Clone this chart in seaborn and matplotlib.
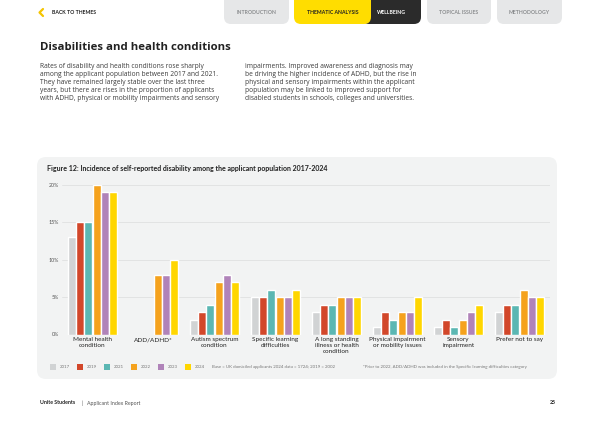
import numpy as np
import pandas as pd
import matplotlib
matplotlib.use('Agg')
import matplotlib.pyplot as plt
import seaborn as sns
from matplotlib.patches import FancyBboxPatch, Rectangle

# chart data (percent of applicants)
categories = ['Mental health\ncondition', 'ADD/ADHD*', 'Autism spectrum\ncondition',
              'Specific learning\ndifficulties', 'A long standing\nillness or health\ncondition',
              'Physical impairment\nor mobility issues', 'Sensory\nimpairment', 'Prefer not to say']
years = ['2017', '2019', '2021', '2022', '2023', '2024']
vals_2017 = [13, np.nan, 2, 5, 3, 1, 1, 3]
vals_2019 = [15, np.nan, 3, 5, 4, 3, 2, 4]
vals_2021 = [15, np.nan, 4, 6, 4, 2, 1, 4]
vals_2022 = [20, 8, 7, 5, 5, 3, 2, 6]
vals_2023 = [19, 8, 8, 5, 5, 3, 3, 5]
vals_2024 = [19, 10, 7, 6, 5, 5, 4, 5]
colors = ['#d1d3d4', '#d2472a', '#5bb7b3', '#f5a21d', '#b083b9', '#ffd600']
yticks = [0, 5, 10, 15, 20]

series = [vals_2017, vals_2019, vals_2021, vals_2022, vals_2023, vals_2024]
df = pd.DataFrame([
    {'category': c, 'year': y, 'value': v}
    for y, vals in zip(years, series)
    for c, v in zip(categories, vals)
])

sns.set_theme(style='white')
plt.rcParams['font.family'] = ['Lato', 'DejaVu Sans']

fig = plt.figure(figsize=(6, 4.24), dpi=100)
fig.patch.set_facecolor('white')

# page layer in pixel coordinates
bg = fig.add_axes([0, 0, 1, 1], zorder=0)
bg.set_xlim(0, 600)
bg.set_ylim(424, 0)
bg.axis('off')

# navigation tabs
def tab(x0, x1, color, text, tcolor, z=1):
    bg.add_patch(FancyBboxPatch((x0, -12), x1 - x0, 36, boxstyle='round,pad=0,rounding_size=7',
                                fc=color, ec='none', zorder=z))
    bg.text((x0 + x1) / 2, 12.5, text, ha='center', va='center', fontsize=3.7,
            color=tcolor, fontweight='bold', zorder=z + 1)

tab(224, 289, '#e6e7e8', 'INTRODUCTION', '#8a8c8e')
tab(362, 421, '#2b2b2b', 'WELLBEING', 'white', z=1)
tab(294, 371, '#ffdd00', 'THEMATIC ANALYSIS', '#222222', z=3)
tab(427, 491, '#e6e7e8', 'TOPICAL ISSUES', '#8a8c8e')
tab(497, 562, '#e6e7e8', 'METHODOLOGY', '#8a8c8e')
bg.plot([43, 39.5, 43], [9, 12.5, 16], color='#f5c400', lw=1.6, solid_capstyle='round',
        solid_joinstyle='round')
bg.text(52, 12.5, 'BACK TO THEMES', fontsize=3.7, color='#222222', fontweight='bold',
        ha='left', va='center')

# heading and intro text
bg.text(40, 47, 'Disabilities and health conditions', fontsize=8.2, fontweight='bold',
        color='#222222', ha='left', va='center', family=['Open Sans', 'DejaVu Sans'])
col1 = ['Rates of disability and health conditions rose sharply',
        'among the applicant population between 2017 and 2021.',
        'They have remained largely stable over the last three',
        'years, but there are rises in the proportion of applicants',
        'with ADHD, physical or mobility impairments and sensory']
col2 = ['impairments. Improved awareness and diagnosis may',
        'be driving the higher incidence of ADHD, but the rise in',
        'physical and sensory impairments within the applicant',
        'population may be linked to improved support for',
        'disabled students in schools, colleges and universities.']
for i, (a, b) in enumerate(zip(col1, col2)):
    y = 66 + i * 8
    bg.text(40, y, a, fontsize=4.8, color='#3c3c3c', ha='left', va='center',
            family=['Open Sans', 'DejaVu Sans'])
    bg.text(245, y, b, fontsize=4.8, color='#3c3c3c', ha='left', va='center',
            family=['Open Sans', 'DejaVu Sans'])

# chart panel
bg.add_patch(FancyBboxPatch((37, 157), 520, 222, boxstyle='round,pad=0,rounding_size=9',
                            fc='#f2f3f3', ec='none'))
bg.text(47, 168, 'Figure 12: Incidence of self-reported disability among the applicant population 2017-2024',
        fontsize=5, fontweight='bold', color='#222222', ha='left', va='center')

# legend
leg_x = [50, 77, 104, 131, 158, 185]
for x, yr, c in zip(leg_x, years, colors):
    bg.add_patch(Rectangle((x, 364), 6, 6, fc=c, ec='none'))
    bg.text(x + 10, 367, yr, fontsize=3.2, color='#777777', ha='left', va='center')
bg.text(212, 367, 'Base = UK domiciled applicants 2024 data = 1724; 2019 = 2002',
        fontsize=3.2, color='#777777', ha='left', va='center')
bg.text(363, 367, '*Prior to 2022, ADD/ADHD was included in the Specific learning difficulties category',
        fontsize=3.2, color='#777777', ha='left', va='center')

# footer
bg.text(40, 403, 'Unite Students', fontsize=3.8, fontweight='bold', color='#222222',
        ha='left', va='center')
bg.text(81, 403, '|', fontsize=3.8, color='#555555', ha='left', va='center')
bg.text(87, 403, 'Applicant Index Report', fontsize=3.8, color='#555555',
        ha='left', va='center')
bg.text(556, 403, '25', fontsize=3.8, fontweight='bold', color='#222222', ha='right', va='center')

# bar chart
ax = fig.add_axes([62 / 600, 89.5 / 424, 488 / 600, 149.5 / 424], zorder=2)
ax.set_facecolor('none')
sns.barplot(data=df, x='category', y='value', hue='year', hue_order=years, order=categories,
            palette=colors, saturation=1, width=0.82, gap=0.06, legend=False, ax=ax)
ax.set_ylim(0, 20)
ax.set_xlim(-0.5, len(categories) - 0.5)
ax.set_yticks(yticks)
ax.set_yticklabels([f'{t}%' for t in yticks])
ax.yaxis.grid(True, color='#dfe0e1', linewidth=0.6)
ax.set_axisbelow(True)
for s in ax.spines.values():
    s.set_visible(False)
ax.set_xlabel('')
ax.set_ylabel('')
ax.tick_params(axis='y', length=0, pad=2, labelsize=3.8, labelcolor='#555555')
ax.tick_params(axis='x', length=0, pad=2, labelsize=4.6, labelcolor='#222222')
for lab in ax.get_xticklabels():
    lab.set_linespacing(1.25)

fig.savefig('out.png', dpi=100, facecolor='white')
